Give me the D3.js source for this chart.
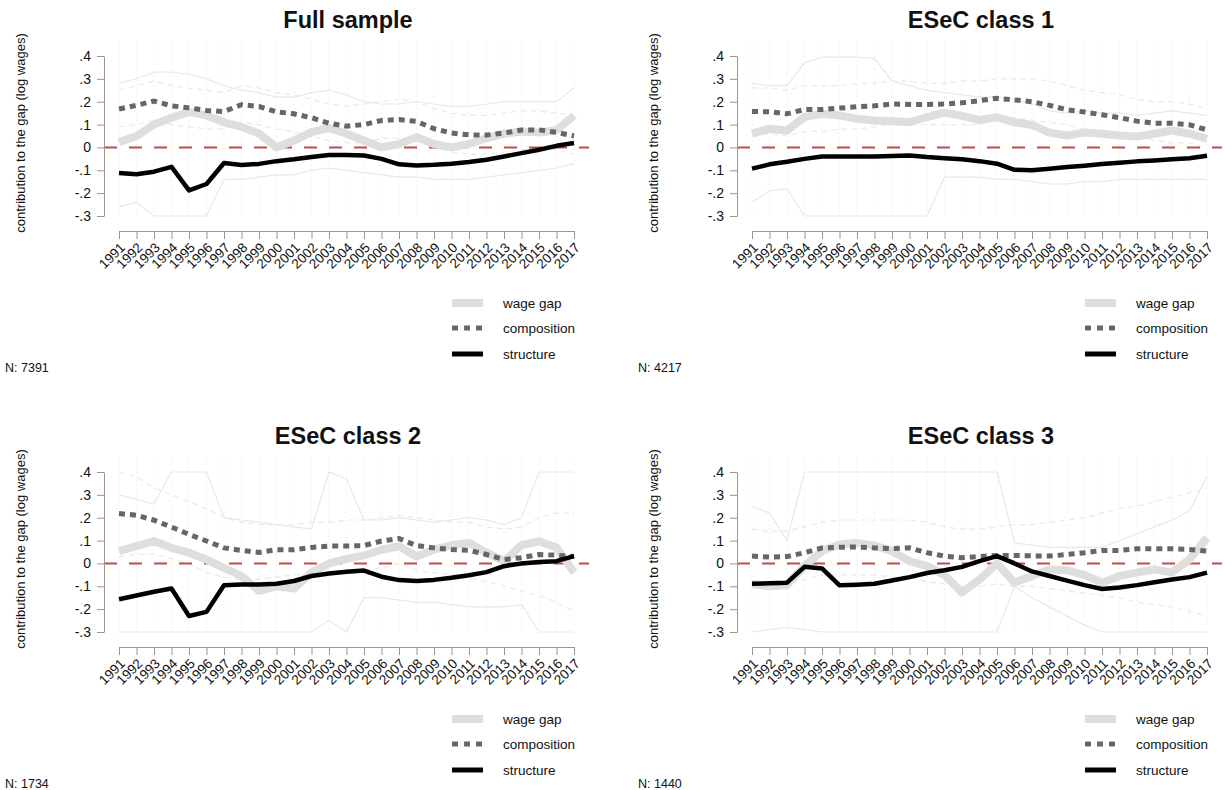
<!DOCTYPE html>
<html><head><meta charset="utf-8">
<script src="https://cdn.jsdelivr.net/npm/d3@7"></script>
<style>body{margin:0;background:#fff}svg{display:block;font-family:"Liberation Sans",Arial,Helvetica,sans-serif}</style>
</head><body><svg id="c" width="1225" height="790"></svg>
<script>
const years=[1991,1992,1993,1994,1995,1996,1997,1998,1999,2000,2001,2002,2003,2004,2005,2006,2007,2008,2009,2010,2011,2012,2013,2014,2015,2016,2017];
const yTicks=[-0.3,-0.2,-0.1,0,0.1,0.2,0.3,0.4];
const titles=["Full sample","ESeC class 1","ESeC class 2","ESeC class 3"];
const sampleN=["7391","4217","1734","1440"];
const legendLabels=["wage gap","composition","structure"];
const yLabel="contribution to the gap (log wages)";

// Full sample
const fullGap=[0.023,0.05,0.1,0.13,0.155,0.14,0.11,0.09,0.06,0.0,0.03,0.067,0.085,0.06,0.03,0.0,0.015,0.045,0.015,0.0,0.015,0.04,0.06,0.07,0.065,0.075,0.14];
const fullComp=[0.168,0.184,0.203,0.182,0.173,0.162,0.157,0.187,0.179,0.156,0.147,0.13,0.106,0.093,0.1,0.118,0.122,0.114,0.082,0.063,0.055,0.054,0.063,0.076,0.077,0.066,0.05];
const fullStruct=[-0.112,-0.117,-0.106,-0.085,-0.188,-0.16,-0.068,-0.077,-0.072,-0.06,-0.052,-0.042,-0.033,-0.033,-0.035,-0.05,-0.074,-0.079,-0.076,-0.071,-0.064,-0.054,-0.04,-0.025,-0.01,0.007,0.019];
const fullGapHi=[0.28,0.3,0.33,0.33,0.32,0.3,0.27,0.25,0.24,0.22,0.22,0.24,0.25,0.23,0.2,0.19,0.19,0.2,0.19,0.18,0.18,0.19,0.2,0.2,0.2,0.2,0.26];
const fullGapLo=[-0.26,-0.24,-0.3,-0.3,-0.3,-0.3,-0.14,-0.14,-0.13,-0.12,-0.12,-0.1,-0.09,-0.1,-0.11,-0.12,-0.13,-0.13,-0.14,-0.14,-0.14,-0.13,-0.12,-0.11,-0.1,-0.09,-0.07];
const fullCompHi=[0.25,0.27,0.29,0.27,0.26,0.25,0.24,0.27,0.26,0.24,0.23,0.21,0.19,0.18,0.19,0.2,0.21,0.2,0.17,0.15,0.14,0.14,0.15,0.16,0.16,0.15,0.14];
const fullCompLo=[0.09,0.1,0.12,0.1,0.09,0.08,0.08,0.11,0.1,0.08,0.07,0.05,0.03,0.02,0.02,0.04,0.04,0.03,0.0,-0.02,-0.03,-0.03,-0.02,-0.01,0.0,-0.01,-0.03];

// ESeC class 1
const c1Gap=[0.06,0.082,0.074,0.133,0.147,0.14,0.125,0.118,0.115,0.11,0.133,0.152,0.138,0.12,0.132,0.11,0.098,0.065,0.052,0.065,0.06,0.052,0.048,0.06,0.074,0.06,0.038];
const c1Comp=[0.157,0.156,0.147,0.166,0.166,0.172,0.178,0.182,0.19,0.188,0.188,0.19,0.195,0.205,0.215,0.208,0.2,0.184,0.165,0.155,0.143,0.13,0.115,0.106,0.106,0.099,0.077];
const c1Struct=[-0.093,-0.074,-0.063,-0.05,-0.04,-0.04,-0.04,-0.04,-0.038,-0.035,-0.042,-0.047,-0.052,-0.06,-0.071,-0.098,-0.1,-0.093,-0.086,-0.08,-0.073,-0.067,-0.061,-0.057,-0.052,-0.047,-0.036];
const c1GapHi=[0.28,0.27,0.27,0.37,0.395,0.395,0.395,0.39,0.29,0.27,0.25,0.24,0.23,0.22,0.22,0.21,0.19,0.16,0.15,0.16,0.15,0.15,0.14,0.15,0.16,0.15,0.14];
const c1GapLo=[-0.24,-0.19,-0.18,-0.3,-0.3,-0.3,-0.3,-0.3,-0.3,-0.3,-0.3,-0.13,-0.13,-0.13,-0.14,-0.14,-0.15,-0.16,-0.16,-0.15,-0.15,-0.14,-0.14,-0.14,-0.14,-0.14,-0.14];
const c1CompHi=[0.26,0.26,0.25,0.27,0.27,0.27,0.28,0.28,0.29,0.29,0.28,0.28,0.29,0.29,0.3,0.3,0.3,0.29,0.27,0.25,0.24,0.23,0.21,0.2,0.2,0.19,0.17];
const c1CompLo=[0.06,0.06,0.05,0.07,0.07,0.08,0.08,0.09,0.1,0.1,0.1,0.1,0.1,0.1,0.12,0.13,0.12,0.11,0.1,0.08,0.07,0.06,0.05,0.03,0.02,0.02,0.0];

// ESeC class 2
const c2Gap=[0.054,0.076,0.098,0.068,0.047,0.017,-0.019,-0.055,-0.12,-0.1,-0.11,-0.04,0.0,0.02,0.035,0.06,0.075,0.03,0.06,0.08,0.09,0.047,0.01,0.08,0.097,0.07,-0.04];
const c2Comp=[0.218,0.211,0.189,0.159,0.127,0.098,0.068,0.057,0.048,0.06,0.06,0.07,0.076,0.076,0.078,0.098,0.109,0.078,0.068,0.061,0.057,0.039,0.017,0.025,0.039,0.036,0.03];
const c2Struct=[-0.157,-0.14,-0.124,-0.11,-0.23,-0.212,-0.095,-0.092,-0.092,-0.089,-0.077,-0.055,-0.044,-0.036,-0.031,-0.058,-0.073,-0.077,-0.072,-0.063,-0.052,-0.038,-0.012,0.0,0.006,0.01,0.032];
const c2GapHi=[0.3,0.28,0.26,0.4,0.4,0.4,0.2,0.19,0.18,0.17,0.16,0.15,0.4,0.37,0.19,0.19,0.2,0.19,0.18,0.19,0.2,0.19,0.17,0.2,0.4,0.4,0.4];
const c2GapLo=[-0.3,-0.3,-0.3,-0.3,-0.3,-0.3,-0.3,-0.3,-0.3,-0.3,-0.3,-0.3,-0.25,-0.3,-0.15,-0.15,-0.16,-0.17,-0.17,-0.18,-0.19,-0.19,-0.19,-0.18,-0.3,-0.3,-0.3];
const c2CompHi=[0.4,0.38,0.33,0.3,0.27,0.24,0.2,0.18,0.17,0.17,0.17,0.18,0.18,0.19,0.19,0.2,0.21,0.2,0.19,0.18,0.18,0.16,0.15,0.16,0.2,0.22,0.22];
const c2CompLo=[0.03,0.04,0.04,0.02,0.0,-0.04,-0.06,-0.07,-0.07,-0.06,-0.05,-0.05,-0.04,-0.04,-0.03,-0.02,0.0,-0.03,-0.04,-0.05,-0.06,-0.08,-0.1,-0.12,-0.14,-0.17,-0.21];

// ESeC class 3
const c3Gap=[-0.09,-0.1,-0.095,-0.01,0.054,0.083,0.09,0.078,0.054,0.01,-0.012,-0.05,-0.128,-0.07,0.0,-0.084,-0.055,-0.026,-0.03,-0.05,-0.084,-0.055,-0.04,-0.026,-0.04,0.017,0.112];
const c3Comp=[0.032,0.028,0.03,0.047,0.068,0.071,0.072,0.068,0.065,0.068,0.047,0.032,0.025,0.03,0.035,0.035,0.033,0.032,0.039,0.047,0.057,0.057,0.064,0.064,0.064,0.061,0.054];
const c3Struct=[-0.089,-0.087,-0.084,-0.015,-0.022,-0.096,-0.093,-0.089,-0.075,-0.06,-0.042,-0.03,-0.015,0.01,0.032,0.0,-0.035,-0.055,-0.075,-0.095,-0.112,-0.105,-0.095,-0.082,-0.07,-0.06,-0.04];
const c3GapHi=[0.25,0.22,0.1,0.4,0.4,0.4,0.4,0.4,0.4,0.4,0.4,0.4,0.4,0.4,0.4,0.09,0.08,0.07,0.07,0.07,0.07,0.1,0.13,0.16,0.19,0.23,0.38];
const c3GapLo=[-0.3,-0.29,-0.28,-0.29,-0.3,-0.3,-0.3,-0.3,-0.3,-0.3,-0.3,-0.3,-0.3,-0.3,-0.3,-0.1,-0.15,-0.19,-0.23,-0.27,-0.3,-0.3,-0.3,-0.3,-0.3,-0.3,-0.3];
const c3CompHi=[0.15,0.14,0.14,0.16,0.18,0.19,0.19,0.19,0.19,0.19,0.18,0.16,0.15,0.15,0.16,0.17,0.17,0.18,0.19,0.2,0.22,0.24,0.25,0.27,0.29,0.31,0.33];
const c3CompLo=[-0.09,-0.1,-0.09,-0.07,-0.05,-0.05,-0.05,-0.05,-0.06,-0.06,-0.08,-0.09,-0.1,-0.1,-0.09,-0.1,-0.1,-0.11,-0.12,-0.13,-0.14,-0.15,-0.17,-0.18,-0.19,-0.21,-0.23];

const panels=[
 {gap:fullGap,comp:fullComp,str:fullStruct,gHi:fullGapHi,gLo:fullGapLo,cHi:fullCompHi,cLo:fullCompLo},
 {gap:c1Gap,comp:c1Comp,str:c1Struct,gHi:c1GapHi,gLo:c1GapLo,cHi:c1CompHi,cLo:c1CompLo},
 {gap:c2Gap,comp:c2Comp,str:c2Struct,gHi:c2GapHi,gLo:c2GapLo,cHi:c2CompHi,cLo:c2CompLo},
 {gap:c3Gap,comp:c3Comp,str:c3Struct,gHi:c3GapHi,gLo:c3GapLo,cHi:c3CompHi,cLo:c3CompLo}
];

const svg=d3.select("#c");
const axisCol="#a3938c";
const fmt=v=>v===0?"0":(v<0?"-":"")+"."+Math.round(Math.abs(v)*10);

panels.forEach((p,i)=>{
  const ox=(i%2)*633, oy=Math.floor(i/2)*416;
  const g=svg.append("g").attr("transform",`translate(${ox},${oy})`);
  const x=d3.scaleLinear().domain([1991,2017]).range([119,574]);
  const y=d3.scaleLinear().domain([-0.3,0.4]).range([216,56]);

  // faint vertical grid
  g.append("g").selectAll("line").data(years).join("line")
    .attr("x1",d=>x(d)).attr("x2",d=>x(d)).attr("y1",40).attr("y2",216)
    .attr("stroke","#f3f3f3").attr("stroke-width",1).attr("stroke-dasharray","2,2");

  const line=arr=>d3.line().x((d,j)=>x(years[j])).y(d=>y(d))(arr);

  // CI lines
  [p.gHi,p.gLo].forEach(a=>g.append("path").attr("d",line(a)).attr("fill","none")
     .attr("stroke","#e8e8e8").attr("stroke-width",1.2));
  [p.cHi,p.cLo].forEach(a=>g.append("path").attr("d",line(a)).attr("fill","none")
     .attr("stroke","#eaeaea").attr("stroke-width",1.2).attr("stroke-dasharray","6,4"));

  // zero line
  g.append("line").attr("x1",104).attr("x2",589).attr("y1",y(0)).attr("y2",y(0))
    .attr("stroke","#c64a48").attr("stroke-width",2).attr("stroke-dasharray","13,12");

  g.append("path").attr("d",line(p.gap)).attr("fill","none").attr("stroke","#dedede")
    .attr("stroke-width",8).attr("stroke-linejoin","round");
  g.append("path").attr("d",line(p.comp)).attr("fill","none").attr("stroke","#666")
    .attr("stroke-width",5).attr("stroke-dasharray","6,5");
  g.append("path").attr("d",line(p.str)).attr("fill","none").attr("stroke","#000")
    .attr("stroke-width",4.5).attr("stroke-linejoin","round");

  // y axis
  const ya=g.append("g").attr("transform","translate(104,0)")
    .call(d3.axisLeft(y).tickValues(yTicks).tickFormat(fmt).tickSize(7).tickSizeOuter(0).tickPadding(6));
  ya.select(".domain").attr("stroke",axisCol);
  ya.selectAll(".tick line").attr("stroke",axisCol);
  ya.selectAll("text").attr("font-size",14).attr("fill","#111").attr("font-family","Liberation Sans, Arial, sans-serif");

  // x axis
  const xa=g.append("g").attr("transform","translate(0,231)")
    .call(d3.axisBottom(x).tickValues(years).tickFormat(d=>String(d)).tickSize(8).tickSizeOuter(0));
  xa.select(".domain").attr("stroke",axisCol);
  xa.selectAll(".tick line").attr("stroke",axisCol);
  xa.selectAll("text").attr("font-size",13.5).attr("fill","#111").attr("font-family","Liberation Sans, Arial, sans-serif")
    .attr("text-anchor","end").attr("y",0).attr("dy","0.35em")
    .attr("transform","translate(3,14) rotate(-45)");

  // title
  g.append("text").attr("x",348).attr("y",28).attr("text-anchor","middle")
    .attr("font-size",23.5).attr("font-weight","bold").attr("fill","#111").text(titles[i]);

  // y label
  g.append("text").attr("transform","translate(25,133) rotate(-90)").attr("text-anchor","middle")
    .attr("font-size",13).attr("fill","#111").text(yLabel);

  // legend
  const ly=[303,328,354];
  const lg=g.append("g");
  lg.append("line").attr("x1",452).attr("x2",483).attr("y1",ly[0]).attr("y2",ly[0]).attr("stroke","#dedede").attr("stroke-width",8);
  lg.append("line").attr("x1",452).attr("x2",483).attr("y1",ly[1]).attr("y2",ly[1]).attr("stroke","#666").attr("stroke-width",5).attr("stroke-dasharray","6,6");
  lg.append("line").attr("x1",452).attr("x2",483).attr("y1",ly[2]).attr("y2",ly[2]).attr("stroke","#000").attr("stroke-width",5);
  legendLabels.forEach((t,k)=>lg.append("text").attr("x",503).attr("y",ly[k]).attr("dy","0.35em")
    .attr("font-size",13.5).attr("fill","#111").text(t));

  // N
  g.append("text").attr("x",5).attr("y",372).attr("font-size",12.5).attr("fill","#111").text("N: "+sampleN[i]);
});
</script></body></html>
